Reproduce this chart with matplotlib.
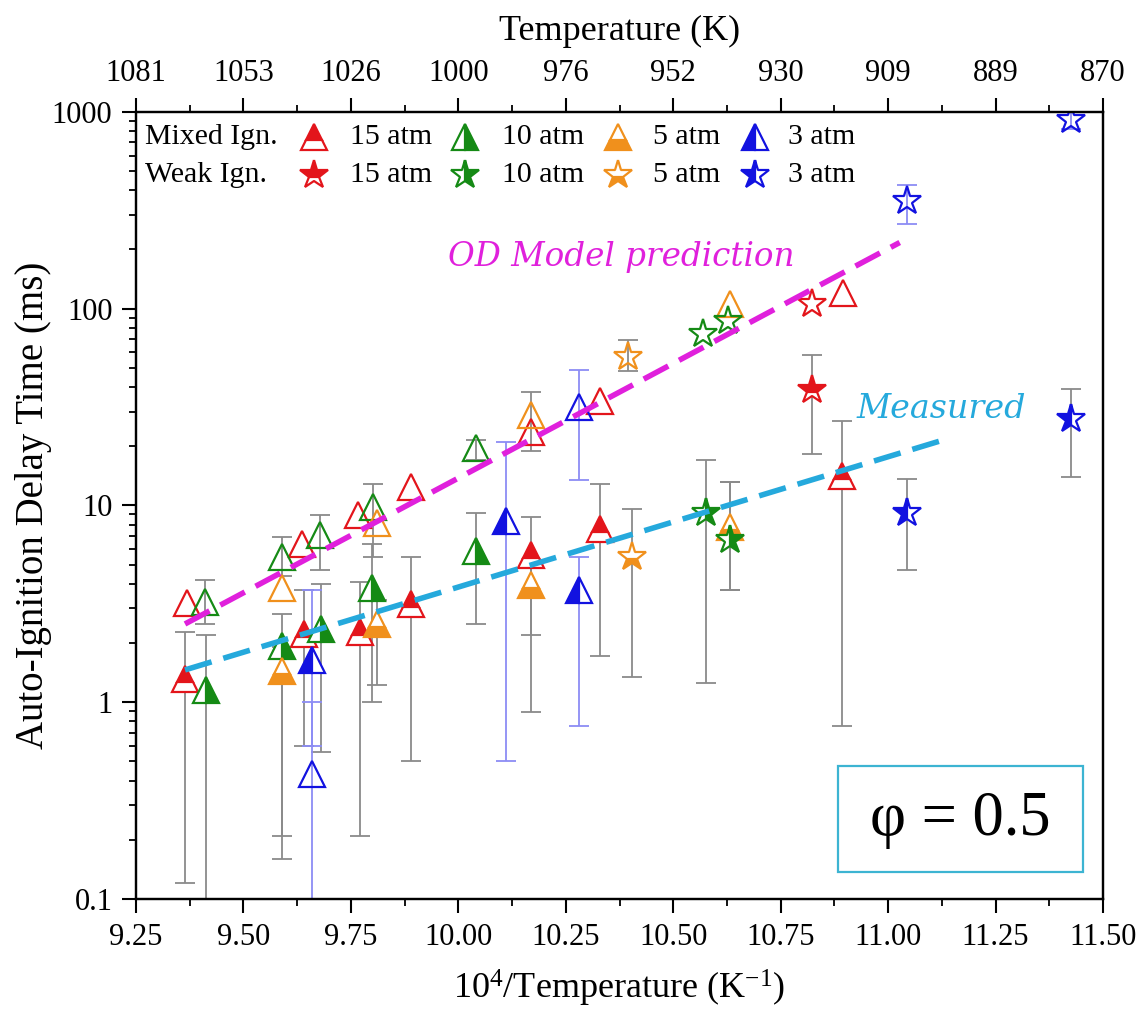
import numpy as np
import matplotlib
matplotlib.use('Agg')
import matplotlib.pyplot as plt
from matplotlib.ticker import FixedLocator, NullFormatter, LogLocator
from matplotlib.patches import Rectangle

plt.rcParams['font.family'] = ['Liberation Serif', 'DejaVu Serif']
plt.rcParams['mathtext.fontset'] = 'custom'
plt.rcParams['mathtext.rm'] = 'Liberation Serif'
plt.rcParams['mathtext.it'] = 'Liberation Serif:italic'

nan = np.nan

# ---------------- data ----------------
pressures = ['15 atm', '10 atm', '5 atm', '3 atm']

# Mixed ignition (triangles): measured (half filled) and 0D-model prediction (open)
mix15_meas_x = [9.364, 9.640, 9.772, 9.890, 10.170, 10.330, 10.893]
mix15_meas_y = [1.31, 2.23, 2.28, 3.15, 5.6, 7.6, 14.1]
mix15_meas_lo = [0.12, 0.60, 0.21, 0.50, 0.89, 1.72, 0.76]
mix15_meas_hi = [2.28, 3.7, 4.1, 5.5, 8.7, 12.9, 27.0]
mix15_pred_x = [9.368, 9.636, 9.766, 9.890, 10.168, 10.330, 10.895]
mix15_pred_y = [3.19, 6.4, 8.9, 12.4, 23.7, 33.9, 120]
mix15_pred_lo = [nan, nan, nan, nan, nan, nan, nan]
mix15_pred_hi = [nan, nan, nan, nan, nan, nan, nan]

mix10_meas_x = [9.413, 9.589, 9.680, 9.800, 10.040]
mix10_meas_y = [1.15, 1.93, 2.35, 3.83, 5.85]
mix10_meas_lo = [0.05, 0.16, 0.56, 1.0, 2.5]
mix10_meas_hi = [2.2, 2.8, 4.0, 6.4, 9.2]
mix10_pred_x = [9.410, 9.589, 9.679, 9.801, 10.040]
mix10_pred_y = [3.25, 5.5, 7.1, 9.8, 19.5]
mix10_pred_lo = [2.5, 4.4, 4.7, 5.5, 17.0]
mix10_pred_hi = [4.2, 6.9, 8.9, 12.9, 21.5]

mix5_meas_x = [9.589, 9.810, 10.170, 10.632]
mix5_meas_y = [1.44, 2.5, 3.95, 7.8]
mix5_meas_lo = [0.21, 1.22, 2.2, 3.7]
mix5_meas_hi = [1.9, 3.3, 5.0, 13.2]
mix5_pred_x = [9.589, 9.810, 10.170, 10.632]
mix5_pred_y = [3.8, 8.1, 28.8, 106]
mix5_pred_lo = [nan, nan, 19.0, nan]
mix5_pred_hi = [nan, nan, 37.8, nan]

mix3_meas_x = [9.659, 10.112, 10.280]
mix3_meas_y = [1.64, 8.35, 3.7]
mix3_meas_lo = [0.6, 0.5, 0.76]
mix3_meas_hi = [3.7, 21.0, 5.5]
mix3_pred_x = [9.659, 10.280]
mix3_pred_y = [0.43, 31.6]
mix3_pred_lo = [0.05, 13.4]
mix3_pred_hi = [1.0, 49.0]

# Weak ignition (stars)
weak15_meas_x = [10.822]
weak15_meas_y = [38.6]
weak15_meas_lo = [18.2]
weak15_meas_hi = [58.0]
weak15_pred_x = [10.822]
weak15_pred_y = [106]
weak15_pred_lo = [nan]
weak15_pred_hi = [nan]

weak10_meas_x = [10.576, 10.632]
weak10_meas_y = [9.2, 6.7]
weak10_meas_lo = [1.25, 3.7]
weak10_meas_hi = [17.1, 13.2]
weak10_pred_x = [10.570, 10.628]
weak10_pred_y = [74, 87]
weak10_pred_lo = [nan, nan]
weak10_pred_hi = [nan, nan]

weak5_meas_x = [10.403]
weak5_meas_y = [5.5]
weak5_meas_lo = [1.35]
weak5_meas_hi = [9.6]
weak5_pred_x = [10.395]
weak5_pred_y = [57]
weak5_pred_lo = [48.0]
weak5_pred_hi = [69.0]

weak3_meas_x = [11.043, 11.425]
weak3_meas_y = [9.2, 27.4]
weak3_meas_lo = [4.7, 14.0]
weak3_meas_hi = [13.6, 39.0]
weak3_pred_x = [11.043, 11.425]
weak3_pred_y = [353, 908]
weak3_pred_lo = [270.0, 820.0]
weak3_pred_hi = [427.0, 1000.0]

# trend lines
pred_line_x = [9.364, 11.027]
pred_line_y = [2.5, 217]
meas_line_x = [9.364, 11.14]
meas_line_y = [1.46, 21.9]

# axis ticks
x_ticks = [9.25, 9.50, 9.75, 10.00, 10.25, 10.50, 10.75, 11.00, 11.25, 11.50]
x_tick_labels = ['9.25', '9.50', '9.75', '10.00', '10.25', '10.50', '10.75', '11.00', '11.25', '11.50']
top_tick_labels = ['1081', '1053', '1026', '1000', '976', '952', '930', '909', '889', '870']
y_ticks = [0.1, 1, 10, 100, 1000]
y_tick_labels = ['0.1', '1', '10', '100', '1000']

# ---------------- style ----------------
colors = ['#e3151b', '#158a15', '#f0901c', '#1212e0']
fills = ['top', 'right', 'bottom', 'left']
gray = '#8a8a8a'
light_blue = '#8c8cf5'
magenta = '#e020dc'
cyan = '#25a9dc'

fig = plt.figure(figsize=(11.41, 10.13), dpi=100)
ax = fig.add_axes([0.1192, 0.1125, 0.8475, 0.777])

ax.set_yscale('log')
ax.set_xlim(9.25, 11.5)
ax.set_ylim(0.1, 1000)


def draw_err(x, y, lo, hi, color, lw=1.3):
    x = np.asarray(x, float); y = np.asarray(y, float)
    lo = np.asarray(lo, float); hi = np.asarray(hi, float)
    m = ~np.isnan(lo)
    if m.any():
        ax.errorbar(x[m], y[m], yerr=[y[m] - lo[m], hi[m] - y[m]], fmt='none',
                    ecolor=color, elinewidth=lw, capsize=7, capthick=lw, zorder=2)


ms_tri = 19
ms_star = 21
mew = 1.6

meas_sets = [
    ('^', mix15_meas_x, mix15_meas_y, mix15_meas_lo, mix15_meas_hi, mix15_pred_x, mix15_pred_y, mix15_pred_lo, mix15_pred_hi),
    ('^', mix10_meas_x, mix10_meas_y, mix10_meas_lo, mix10_meas_hi, mix10_pred_x, mix10_pred_y, mix10_pred_lo, mix10_pred_hi),
    ('^', mix5_meas_x, mix5_meas_y, mix5_meas_lo, mix5_meas_hi, mix5_pred_x, mix5_pred_y, mix5_pred_lo, mix5_pred_hi),
    ('^', mix3_meas_x, mix3_meas_y, mix3_meas_lo, mix3_meas_hi, mix3_pred_x, mix3_pred_y, mix3_pred_lo, mix3_pred_hi),
    ('*', weak15_meas_x, weak15_meas_y, weak15_meas_lo, weak15_meas_hi, weak15_pred_x, weak15_pred_y, weak15_pred_lo, weak15_pred_hi),
    ('*', weak10_meas_x, weak10_meas_y, weak10_meas_lo, weak10_meas_hi, weak10_pred_x, weak10_pred_y, weak10_pred_lo, weak10_pred_hi),
    ('*', weak5_meas_x, weak5_meas_y, weak5_meas_lo, weak5_meas_hi, weak5_pred_x, weak5_pred_y, weak5_pred_lo, weak5_pred_hi),
    ('*', weak3_meas_x, weak3_meas_y, weak3_meas_lo, weak3_meas_hi, weak3_pred_x, weak3_pred_y, weak3_pred_lo, weak3_pred_hi),
]

for k, (mk, mx, my, mlo, mhi, px, py, plo, phi_) in enumerate(meas_sets):
    i = k % 4
    c = colors[i]
    ecol = light_blue if (mk == '^' and i == 3) else gray
    draw_err(mx, my, mlo, mhi, ecol)
    draw_err(px, py, plo, phi_, light_blue if i == 3 else gray)
    ms = ms_tri if mk == '^' else ms_star
    ax.plot(px, py, ls='none', marker=mk, ms=ms, mec=c, mfc='none', mew=mew, zorder=3)
    ax.plot(mx, my, ls='none', marker=mk, ms=ms, mec=c, mfc=c, mfcalt='white',
            fillstyle=fills[i], mew=mew, zorder=3)

ax.plot(pred_line_x, pred_line_y, ls=(0, (5, 2.2)), color=magenta, lw=4.0, zorder=5)
ax.plot(meas_line_x, meas_line_y, ls=(0, (5, 2.2)), color=cyan, lw=4.0, zorder=5)

ax.text(9.977, 10**2.265, 'OD Model prediction', color=magenta, fontsize=23.5,
        family='DejaVu Serif', style='italic', ha='left', va='center', zorder=6)
ax.text(10.926, 10**1.488, 'Measured', color=cyan, fontsize=24,
        family='DejaVu Serif', style='italic', ha='left', va='center', zorder=6)

# phi box
ax.add_patch(Rectangle((0.726, 0.034), 0.253, 0.135, transform=ax.transAxes,
                       fill=True, fc='white', ec='#3cb4d2', lw=1.6, zorder=6))
ax.text(0.8525, 0.100, 'φ = 0.5', transform=ax.transAxes, fontsize=45,
        ha='center', va='center', zorder=7)

# manual legend
row_y = [0.968, 0.920]
leg_mx = [0.1836, 0.3405, 0.4987, 0.640]
leg_tx = [0.2214, 0.3787, 0.5348, 0.6742]
ax.text(0.009, row_y[0], 'Mixed Ign.', transform=ax.transAxes, fontsize=21.5,
        ha='left', va='center', zorder=7)
ax.text(0.009, row_y[1], 'Weak Ign.', transform=ax.transAxes, fontsize=21.5,
        ha='left', va='center', zorder=7)
for i in range(4):
    for r, mk in enumerate(['^', '*']):
        ms = ms_tri if mk == '^' else ms_star
        ax.plot([leg_mx[i]], [row_y[r]], transform=ax.transAxes, ls='none', marker=mk,
                ms=ms, mec=colors[i], mfc=colors[i], mfcalt='white', fillstyle=fills[i],
                mew=mew, clip_on=False, zorder=7)
        ax.text(leg_tx[i], row_y[r], pressures[i], transform=ax.transAxes, fontsize=21.5,
                ha='left', va='center', zorder=7)

# axes formatting
ax.set_xticks(x_ticks)
ax.set_xticklabels(x_tick_labels)
ax.xaxis.set_minor_locator(FixedLocator([t + 0.125 for t in x_ticks[:-1]]))
ax.set_yticks(y_ticks)
ax.set_yticklabels(y_tick_labels)
ax.yaxis.set_minor_locator(LogLocator(base=10, subs=np.arange(2, 10)))
ax.yaxis.set_minor_formatter(NullFormatter())
ax.tick_params(which='major', direction='out', length=10, width=1.5, labelsize=22, pad=7)
ax.tick_params(which='minor', direction='out', length=5, width=1.3)
ax.tick_params(axis='y', which='both', right=False)
ax.tick_params(axis='x', which='both', top=False)
for s in ax.spines.values():
    s.set_linewidth(1.6)

ax.set_xlabel(r'10$^4$/Temperature (K$^{-1}$)', fontsize=26)
ax.xaxis.set_label_coords(0.5, -0.088)
ax.set_ylabel('Auto-Ignition Delay Time (ms)', fontsize=28)
ax.yaxis.set_label_coords(-0.087, 0.5)

ax2 = ax.twiny()
ax2.set_xlim(ax.get_xlim())
ax2.set_xticks(x_ticks)
ax2.set_xticklabels(top_tick_labels)
ax2.xaxis.set_minor_locator(FixedLocator([t + 0.125 for t in x_ticks[:-1]]))
ax2.tick_params(which='major', direction='out', length=10, width=1.5, labelsize=22, pad=7)
ax2.tick_params(which='minor', direction='out', length=5, width=1.3)
ax2.set_xlabel('Temperature (K)', fontsize=26)
ax2.xaxis.set_label_coords(0.5, 1.092)
for s in ax2.spines.values():
    s.set_linewidth(1.6)

fig.savefig('out.png', dpi=100, facecolor='white')
